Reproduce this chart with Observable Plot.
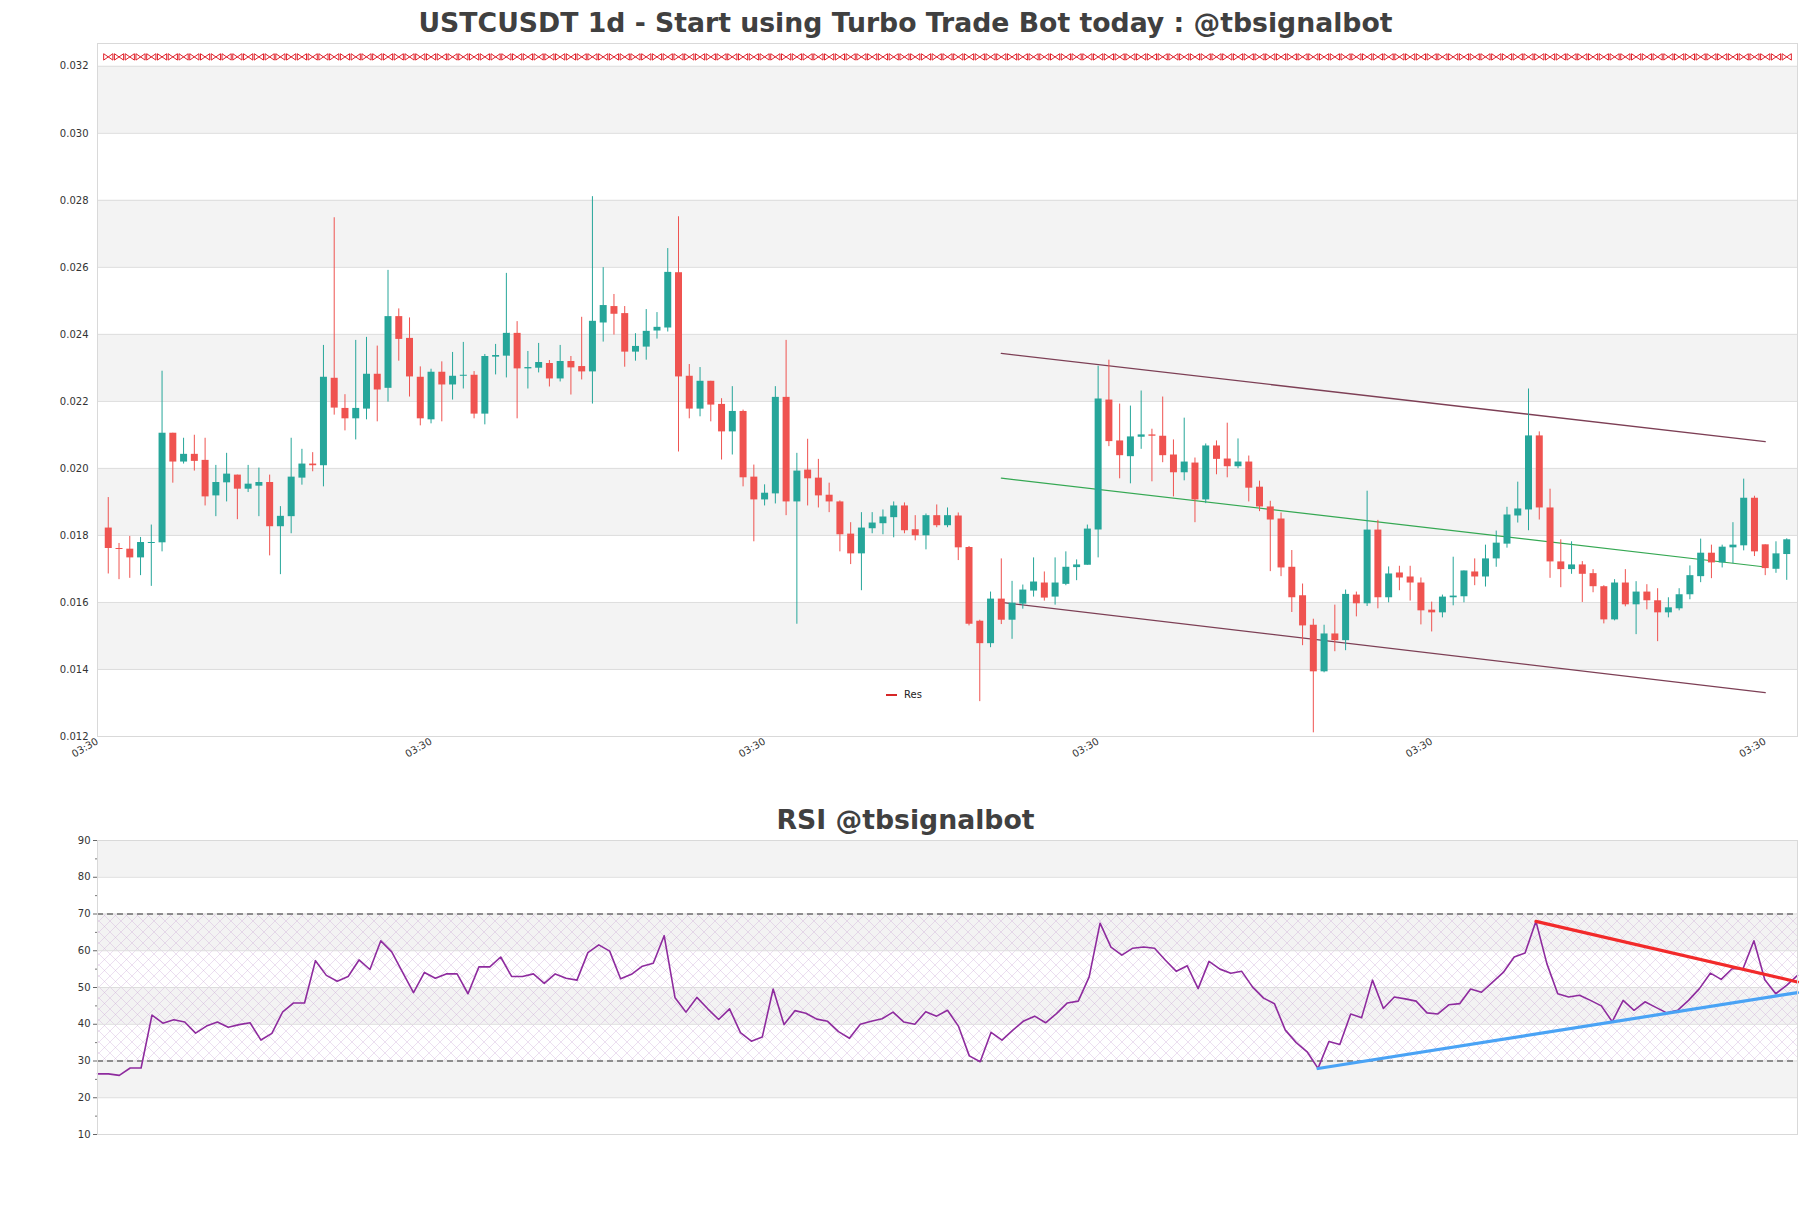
<!DOCTYPE html>
<html><head><meta charset="utf-8">
<script src="https://cdn.jsdelivr.net/npm/d3@7"></script>
<script src="https://cdn.jsdelivr.net/npm/@observablehq/plot@0.6"></script>
<style>
body{margin:0;background:#fff;font-family:"DejaVu Sans",sans-serif;}
#wrap{position:relative;width:1811px;height:1208px;overflow:hidden;background:#fff;}
#wrap svg{position:absolute;left:0;}
.ttl{position:absolute;left:0;width:1811px;text-align:center;font-weight:bold;font-size:26.7px;color:#404040;line-height:30px;font-family:"DejaVu Sans",sans-serif;}
.leg{position:absolute;font-size:10px;color:#222;font-family:"DejaVu Sans",sans-serif;display:flex;align-items:center;}
.leg i{display:inline-block;width:11px;height:2px;background:#d62728;margin-right:7px;}
</style></head>
<body><div id="wrap"></div>
<script>
// ---------- data ----------
const titleMain = "USTCUSDT 1d - Start using Turbo Trade Bot today : @tbsignalbot";
const titleRsi = "RSI @tbsignalbot";
const legendLabel = "Res";
const xTickIdx = [-1, 30, 61, 92, 123, 154];
const xTickLabel = "03:30";
const yTicks = [0.012,0.014,0.016,0.018,0.020,0.022,0.024,0.026,0.028,0.030,0.032];
const rsiTicks = [10,20,30,40,50,60,70,80,90];
const rsiMinor = [15,25,35,45,55,65,75,85];
const rsiLevels = [30, 70];
const resLevel = 0.03228;

const open = [0.01822,0.01761,0.01759,0.01733,0.01776,0.01778,0.02105,0.02019,0.02042,0.02024,
0.01918,0.01957,0.01980,0.01938,0.01947,0.01958,0.01826,0.01856,0.01971,0.02013,
0.02008,0.02269,0.02179,0.02148,0.02177,0.02281,0.02239,0.02453,0.02388,0.02272,
0.02145,0.02287,0.02249,0.02275,0.02278,0.02162,0.02332,0.02335,0.02403,0.02297,
0.02299,0.02313,0.02267,0.02319,0.02304,0.02288,0.02434,0.02483,0.02462,0.02347,
0.02362,0.02410,0.02419,0.02584,0.02275,0.02177,0.02260,0.02191,0.02109,0.02170,
0.01974,0.01906,0.01924,0.02212,0.01900,0.01995,0.01971,0.01920,0.01900,0.01804,
0.01745,0.01820,0.01835,0.01853,0.01888,0.01817,0.01799,0.01859,0.01829,0.01858,
0.01764,0.01544,0.01477,0.01610,0.01547,0.01595,0.01634,0.01658,0.01616,0.01654,
0.01704,0.01711,0.01816,0.02204,0.02082,0.02035,0.02093,0.02100,0.02096,0.02040,
0.01987,0.02016,0.01906,0.02067,0.02028,0.02005,0.02019,0.01944,0.01885,0.01849,
0.01705,0.01620,0.01532,0.01393,0.01506,0.01486,0.01622,0.01596,0.01816,0.01614,
0.01688,0.01676,0.01658,0.01577,0.01569,0.01614,0.01617,0.01691,0.01676,0.01730,
0.01774,0.01858,0.01876,0.02097,0.01882,0.01721,0.01698,0.01712,0.01686,0.01647,
0.01548,0.01658,0.01593,0.01631,0.01605,0.01569,0.01581,0.01623,0.01677,0.01747,
0.01718,0.01763,0.01769,0.01911,0.01772,0.01699,0.01743];
const high = [0.01913,0.01776,0.01797,0.01794,0.01831,0.02290,0.02105,0.02090,0.02099,0.02090,
0.02009,0.02045,0.01980,0.02009,0.02001,0.01980,0.01886,0.02090,0.02057,0.02047,
0.02367,0.02748,0.02220,0.02382,0.02391,0.02365,0.02591,0.02476,0.02449,0.02303,
0.02296,0.02318,0.02346,0.02376,0.02289,0.02340,0.02370,0.02582,0.02438,0.02349,
0.02373,0.02322,0.02367,0.02334,0.02451,0.02811,0.02599,0.02519,0.02483,0.02402,
0.02474,0.02465,0.02656,0.02751,0.02310,0.02301,0.02260,0.02208,0.02244,0.02174,
0.02010,0.01951,0.02244,0.02382,0.02045,0.02087,0.02027,0.01956,0.01903,0.01838,
0.01868,0.01868,0.01876,0.01900,0.01897,0.01859,0.01864,0.01891,0.01882,0.01867,
0.01767,0.01547,0.01631,0.01730,0.01663,0.01652,0.01733,0.01691,0.01733,0.01751,
0.01727,0.01831,0.02305,0.02323,0.02192,0.02186,0.02231,0.02117,0.02213,0.02085,
0.02150,0.02031,0.02073,0.02082,0.02135,0.02088,0.02037,0.01962,0.01902,0.01867,
0.01755,0.01655,0.01550,0.01532,0.01592,0.01637,0.01631,0.01932,0.01845,0.01706,
0.01708,0.01708,0.01673,0.01601,0.01622,0.01735,0.01694,0.01730,0.01771,0.01813,
0.01884,0.01959,0.02237,0.02109,0.01938,0.01787,0.01781,0.01722,0.01698,0.01650,
0.01668,0.01698,0.01662,0.01653,0.01641,0.01614,0.01641,0.01709,0.01789,0.01771,
0.01771,0.01838,0.01968,0.01917,0.01772,0.01781,0.01790];
const low = [0.01685,0.01668,0.01672,0.01680,0.01648,0.01751,0.01956,0.02013,0.01992,0.01888,
0.01856,0.01900,0.01847,0.01928,0.01856,0.01739,0.01683,0.01805,0.01950,0.01990,
0.01945,0.02159,0.02112,0.02085,0.02145,0.02139,0.02198,0.02320,0.02213,0.02127,
0.02133,0.02139,0.02204,0.02237,0.02148,0.02130,0.02279,0.02270,0.02148,0.02237,
0.02285,0.02243,0.02258,0.02219,0.02264,0.02192,0.02377,0.02398,0.02302,0.02320,
0.02323,0.02386,0.02407,0.02049,0.02148,0.02154,0.02139,0.02025,0.02040,0.01945,
0.01781,0.01888,0.01894,0.01859,0.01535,0.01888,0.01882,0.01868,0.01751,0.01713,
0.01635,0.01805,0.01802,0.01793,0.01805,0.01784,0.01757,0.01823,0.01823,0.01725,
0.01530,0.01304,0.01465,0.01534,0.01490,0.01580,0.01616,0.01604,0.01592,0.01650,
0.01665,0.01711,0.01733,0.02065,0.01969,0.01954,0.02057,0.01960,0.02017,0.01915,
0.01963,0.01838,0.01895,0.01981,0.01972,0.01999,0.01900,0.01871,0.01692,0.01677,
0.01570,0.01471,0.01211,0.01390,0.01453,0.01456,0.01557,0.01588,0.01581,0.01599,
0.01635,0.01604,0.01533,0.01512,0.01554,0.01590,0.01599,0.01650,0.01646,0.01705,
0.01762,0.01837,0.01814,0.01846,0.01672,0.01644,0.01684,0.01600,0.01629,0.01536,
0.01545,0.01587,0.01504,0.01578,0.01483,0.01554,0.01575,0.01608,0.01659,0.01671,
0.01703,0.01716,0.01754,0.01737,0.01680,0.01687,0.01666];
const close = [0.01761,0.01758,0.01733,0.01779,0.01779,0.02105,0.02019,0.02042,0.02021,0.01915,
0.01958,0.01983,0.01938,0.01953,0.01958,0.01826,0.01857,0.01974,0.02013,0.02008,
0.02272,0.02180,0.02148,0.02179,0.02281,0.02234,0.02453,0.02385,0.02273,0.02148,
0.02287,0.02249,0.02275,0.02278,0.02162,0.02334,0.02337,0.02403,0.02297,0.02301,
0.02316,0.02267,0.02319,0.02300,0.02288,0.02439,0.02486,0.02460,0.02347,0.02364,
0.02409,0.02421,0.02585,0.02273,0.02177,0.02260,0.02189,0.02109,0.02170,0.01972,
0.01906,0.01926,0.02212,0.01900,0.01992,0.01969,0.01918,0.01900,0.01802,0.01745,
0.01822,0.01837,0.01855,0.01888,0.01814,0.01799,0.01859,0.01829,0.01859,0.01763,
0.01535,0.01477,0.01610,0.01547,0.01598,0.01637,0.01661,0.01613,0.01658,0.01705,
0.01712,0.01819,0.02207,0.02080,0.02038,0.02094,0.02100,0.02096,0.02038,0.01987,
0.02019,0.01906,0.02067,0.02027,0.02005,0.02019,0.01941,0.01885,0.01846,0.01703,
0.01614,0.01530,0.01393,0.01506,0.01486,0.01624,0.01596,0.01816,0.01614,0.01685,
0.01673,0.01658,0.01575,0.01569,0.01616,0.01619,0.01694,0.01676,0.01730,0.01777,
0.01861,0.01879,0.02097,0.01882,0.01721,0.01698,0.01712,0.01684,0.01647,0.01548,
0.01658,0.01593,0.01631,0.01605,0.01569,0.01584,0.01623,0.01680,0.01747,0.01718,
0.01765,0.01771,0.01911,0.01751,0.01701,0.01745,0.01787];
const rsi = [26.5,26.5,26.1,28.1,28.1,42.5,40.3,41.2,40.6,37.6,
39.5,40.6,39.2,39.9,40.4,35.7,37.5,43.4,45.8,45.8,
57.3,53.3,51.7,53.0,57.5,54.9,62.7,59.7,54.1,48.6,
54.1,52.5,53.7,53.7,48.3,55.6,55.6,58.3,53.0,53.0,
53.7,51.1,53.7,52.5,52.0,59.5,61.6,59.9,52.4,53.6,
55.8,56.6,64.1,47.2,43.3,47.3,44.2,41.3,44.2,37.7,
35.4,36.5,49.6,39.9,43.7,43.0,41.4,40.8,38.0,36.2,
40.0,40.8,41.5,43.3,40.6,40.0,43.4,42.2,43.8,39.5,
31.4,29.8,37.8,35.7,38.4,40.9,42.2,40.4,42.9,45.8,
46.3,52.9,67.5,61.0,58.8,60.7,61.0,60.7,57.4,54.4,
55.9,49.7,57.1,55.0,53.9,54.4,50.1,47.1,45.6,38.4,
35.0,32.5,28.0,35.3,34.5,42.8,41.8,52.0,44.3,47.4,
46.9,46.3,43.1,42.8,45.3,45.6,49.6,48.7,51.4,54.1,
58.3,59.4,68.0,56.5,48.3,47.4,47.9,46.5,45.0,40.7,
46.5,43.8,46.1,44.6,43.1,43.8,46.5,49.7,53.9,52.2,
55.1,55.1,62.7,52.1,48.3,50.6,53.3];
// channel (index endpoints and values)
const channelIdx = [83, 154];
const channelUpper = [0.02343, 0.02080];
const channelMid = [0.01971, 0.01706];
const channelLower = [0.01600, 0.01331];
// RSI trend lines
const rsiResIdx = [132, 156], rsiResVal = [68.0, 51.5];
const rsiSupIdx = [112, 156], rsiSupVal = [27.95, 48.6];

// ---------- styles ----------
const UP = "#26a69a", DOWN = "#ef5350", BAND = "#f3f3f3", GRID = "#dddddd", FRAME = "#d9d9d9";
const N = open.length;
const idx = d3.range(N);
const candles = idx.map(i => ({i, o: open[i], h: high[i], l: low[i], c: close[i]}));
const ups = candles.filter(d => d.c >= d.o), downs = candles.filter(d => d.c < d.o);
const mainBands = d3.range(1, yTicks.length - 1, 2).map(k => ({a: yTicks[k], b: yTicks[k + 1]}));
const rsiBands = d3.range(1, rsiTicks.length - 1, 2).map(k => ({a: rsiTicks[k], b: rsiTicks[k + 1]}));
const mk = (xs, ys) => xs.map((x, k) => ({x, y: ys[k]}));

const xMark = {draw(ctx) { const w = 4.6, h = 3.2; ctx.moveTo(-w, -h); ctx.lineTo(w, h); ctx.moveTo(-w, h); ctx.lineTo(w, -h); ctx.moveTo(-w, -h); ctx.lineTo(-w, h); ctx.moveTo(w, -h); ctx.lineTo(w, h); }};

const wrap = document.getElementById("wrap");

const main = Plot.plot({
  width: 1811, height: 790,
  marginLeft: 97, marginRight: 14, marginTop: 43, marginBottom: 54,
  style: {fontFamily: "DejaVu Sans", fontSize: "10px", color: "#333", background: "transparent", overflow: "visible"},
  x: {domain: [-1, N], label: null},
  y: {domain: [0.012, 0.03268], label: null},
  marks: [
    Plot.rect(mainBands, {x1: -1, x2: N, y1: "a", y2: "b", fill: BAND}),
    Plot.ruleY(yTicks, {stroke: GRID, strokeWidth: 1}),
    Plot.axisY({ticks: yTicks, tickFormat: d3.format(".3f"), tickSize: 0, tickPadding: 9, label: null, fill: "#333"}),
    Plot.axisX({ticks: xTickIdx, tickFormat: () => xTickLabel, tickRotate: -30, tickSize: 0, tickPadding: 4, label: null, fill: "#333"}),
    Plot.line(mk(channelIdx, channelUpper), {x: "x", y: "y", stroke: "#7d3f55", strokeWidth: 1.3}),
    Plot.line(mk(channelIdx, channelLower), {x: "x", y: "y", stroke: "#7d3f55", strokeWidth: 1.3}),
    Plot.line(mk(channelIdx, channelMid), {x: "x", y: "y", stroke: "#35a853", strokeWidth: 1.1}),
    Plot.ruleX(ups, {x: "i", y1: "l", y2: "h", stroke: UP, strokeWidth: 1}),
    Plot.ruleX(downs, {x: "i", y1: "l", y2: "h", stroke: DOWN, strokeWidth: 1}),
    Plot.ruleX(ups, {x: "i", y1: "o", y2: "c", stroke: UP, strokeWidth: 7}),
    Plot.ruleX(downs, {x: "i", y1: "o", y2: "c", stroke: DOWN, strokeWidth: 7}),
    Plot.dot(idx, {x: d => d, y: () => resLevel, symbol: xMark, r: 3, stroke: "#e0202a", fill: "none", strokeWidth: 1}),
    Plot.frame({stroke: FRAME})
  ]
});
main.style.top = "0px";
wrap.appendChild(main);

const rsiPlot = Plot.plot({
  width: 1811, height: 360,
  marginLeft: 97, marginRight: 14, marginTop: 40, marginBottom: 26,
  style: {fontFamily: "DejaVu Sans", fontSize: "10px", color: "#333", background: "transparent"},
  x: {domain: [0, N - 1], axis: null},
  y: {domain: [10, 90], label: null},
  marks: [
    Plot.rect(rsiBands, {x1: 0, x2: N - 1, y1: "a", y2: "b", fill: BAND}),
    Plot.rect([{a: rsiLevels[0], b: rsiLevels[1]}], {x1: 0, x2: N - 1, y1: "a", y2: "b", fill: "url(#rsihatch)"}),
    Plot.ruleY(rsiTicks, {stroke: GRID, strokeWidth: 1}),
    Plot.axisY({ticks: rsiTicks, tickSize: 4, tickPadding: 3, label: null, stroke: "#666", fill: "#333"}),
    Plot.axisY({ticks: rsiMinor, tickSize: 2, tickFormat: () => "", label: null, stroke: "#777"}),
    Plot.ruleY(rsiLevels, {stroke: "#333", strokeDasharray: "6,4", strokeWidth: 1.1}),
    Plot.line(rsi, {x: (d, i) => i, y: d => d, stroke: "#8e2b9e", strokeWidth: 1.6}),
    Plot.line(mk(rsiSupIdx, rsiSupVal), {x: "x", y: "y", stroke: "#4aa3f5", strokeWidth: 3.2}),
    Plot.line(mk(rsiResIdx, rsiResVal), {x: "x", y: "y", stroke: "#f22a2a", strokeWidth: 3.2}),
    Plot.frame({stroke: FRAME})
  ]
});
rsiPlot.style.top = "800px";
const defs = d3.select(rsiPlot).insert("defs", ":first-child");
const pat = defs.append("pattern").attr("id", "rsihatch").attr("patternUnits", "userSpaceOnUse").attr("width", 11).attr("height", 11);
pat.append("path").attr("d", "M0,0L11,11M11,0L0,11").attr("stroke", "#c9a6d6").attr("stroke-width", 0.6).attr("stroke-opacity", 0.6).attr("fill", "none");
wrap.appendChild(rsiPlot);

function addTitle(text, top) {
  const d = document.createElement("div");
  d.className = "ttl"; d.textContent = text; d.style.top = top + "px";
  wrap.appendChild(d);
}
addTitle(titleMain, 8);
addTitle(titleRsi, 805);

const leg = document.createElement("div");
leg.className = "leg"; leg.style.left = "886px"; leg.style.top = "689px";
leg.innerHTML = "<i></i><span></span>";
leg.querySelector("span").textContent = legendLabel;
wrap.appendChild(leg);
</script>
</body></html>
